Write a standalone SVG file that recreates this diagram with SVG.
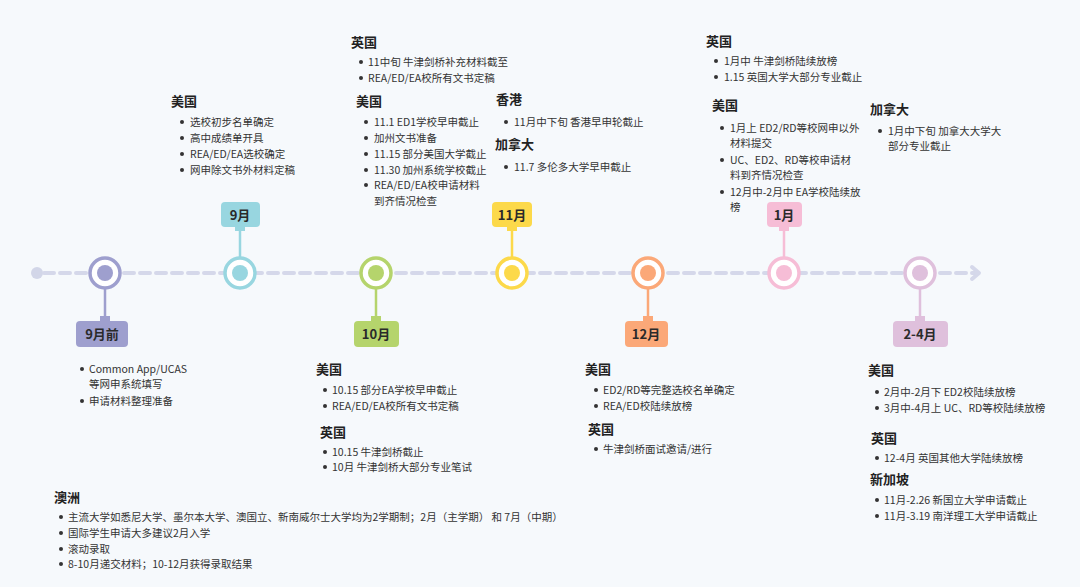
<svg xmlns="http://www.w3.org/2000/svg" width="1080" height="587" viewBox="0 0 1080 587">
<style>
text{font-family:"Noto Sans CJK SC","Noto Sans",sans-serif;fill:#333}
.h{font-size:13px;font-weight:bold;fill:#222}
.b{font-size:10.5px}
.m{font-size:13px;font-weight:bold;fill:#2a2a2a;text-anchor:middle}
.ring{fill:#fff;stroke-width:3.5}
</style>
<defs><circle id="dot" r="2" fill="#333"/></defs>
<rect width="1080" height="587" fill="#f6f9fc"/>
<g id="connectors">
<circle cx="37" cy="273" r="6" fill="#d2d6e8"/>
<line x1="44" y1="273" x2="978" y2="273" stroke="#d5d8ea" stroke-width="4" stroke-dasharray="10,6" stroke-linecap="round"/>
<path d="M972 267 L979 273 L972 279" fill="none" stroke="#d5d8ea" stroke-width="4" stroke-linecap="round" stroke-linejoin="round"/>
</g>
<g id="n1"><line x1="105" y1="289" x2="105" y2="320" stroke="#9e9fce" stroke-width="2.5"/><rect x="100" y="316" width="10" height="6" fill="#9e9fce"/><rect x="76" y="321" width="52" height="26" rx="4" fill="#9e9fce"/><text class="m" x="102" y="339">9月前</text><circle cx="105" cy="273" r="15" class="ring" stroke="#9e9fce"/><circle cx="105" cy="273" r="8" fill="#9e9fce"/></g>
<g id="n2"><line x1="240" y1="226" x2="240" y2="257" stroke="#98d6e0" stroke-width="2.5"/><rect x="235" y="225" width="10" height="6" fill="#98d6e0"/><rect x="221" y="202" width="39" height="25" rx="4" fill="#98d6e0"/><text class="m" x="240" y="220">9月</text><circle cx="240" cy="273" r="15" class="ring" stroke="#98d6e0"/><circle cx="240" cy="273" r="8" fill="#98d6e0"/></g>
<g id="n3"><line x1="376" y1="289" x2="376" y2="320" stroke="#b5d46c" stroke-width="2.5"/><rect x="371" y="316" width="10" height="6" fill="#b5d46c"/><rect x="354" y="321" width="45" height="26" rx="4" fill="#b5d46c"/><text class="m" x="376" y="339">10月</text><circle cx="376" cy="273" r="15" class="ring" stroke="#b5d46c"/><circle cx="376" cy="273" r="8" fill="#b5d46c"/></g>
<g id="n4"><line x1="512" y1="226" x2="512" y2="257" stroke="#fcd94a" stroke-width="2.5"/><rect x="507" y="225" width="10" height="6" fill="#fcd94a"/><rect x="492" y="202" width="40" height="25" rx="4" fill="#fcd94a"/><text class="m" x="512" y="220">11月</text><circle cx="512" cy="273" r="15" class="ring" stroke="#fcd94a"/><circle cx="512" cy="273" r="8" fill="#fcd94a"/></g>
<g id="n5"><line x1="648" y1="289" x2="648" y2="320" stroke="#fba878" stroke-width="2.5"/><rect x="643" y="316" width="10" height="6" fill="#fba878"/><rect x="625" y="321" width="43" height="26" rx="4" fill="#fba878"/><text class="m" x="646" y="339">12月</text><circle cx="648" cy="273" r="15" class="ring" stroke="#fba878"/><circle cx="648" cy="273" r="8" fill="#fba878"/></g>
<g id="n6"><line x1="784" y1="226" x2="784" y2="257" stroke="#f6bdd6" stroke-width="2.5"/><rect x="779" y="225" width="10" height="6" fill="#f6bdd6"/><rect x="767" y="202" width="35" height="25" rx="4" fill="#f6bdd6"/><text class="m" x="784" y="220">1月</text><circle cx="784" cy="273" r="15" class="ring" stroke="#f6bdd6"/><circle cx="784" cy="273" r="8" fill="#f6bdd6"/></g>
<g id="n7"><line x1="920" y1="289" x2="920" y2="320" stroke="#dfc0dc" stroke-width="2.5"/><rect x="915" y="316" width="10" height="6" fill="#dfc0dc"/><rect x="893" y="321" width="55" height="26" rx="4" fill="#dfc0dc"/><text class="m" x="920" y="339">2-4月</text><circle cx="920" cy="273" r="15" class="ring" stroke="#dfc0dc"/><circle cx="920" cy="273" r="8" fill="#dfc0dc"/></g>

<g id="t9pre">
<use href="#dot" x="82" y="369"/><text class="b" x="89" y="373">Common App/UCAS</text>
<text class="b" x="89" y="388">等网申系统填写</text>
<use href="#dot" x="82" y="401"/><text class="b" x="89" y="405">申请材料整理准备</text>
</g>
<g id="t9">
<text class="h" x="171" y="106">美国</text>
<use href="#dot" x="182" y="122"/><text class="b" x="190" y="126">选校初步名单确定</text>
<use href="#dot" x="182" y="138"/><text class="b" x="190" y="142">高中成绩单开具</text>
<use href="#dot" x="182" y="154"/><text class="b" x="190" y="158">REA/ED/EA选校确定</text>
<use href="#dot" x="182" y="170"/><text class="b" x="190" y="174">网申除文书外材料定稿</text>
</g>
<g id="t10">
<text class="h" x="316" y="374">美国</text>
<use href="#dot" x="325" y="390"/><text class="b" x="332" y="394">10.15 部分EA学校早申截止</text>
<use href="#dot" x="325" y="406"/><text class="b" x="332" y="410">REA/ED/EA校所有文书定稿</text>
<text class="h" x="320" y="437">英国</text>
<use href="#dot" x="325" y="452"/><text class="b" x="332" y="456">10.15 牛津剑桥截止</text>
<use href="#dot" x="325" y="467"/><text class="b" x="332" y="471">10月 牛津剑桥大部分专业笔试</text>
</g>
<g id="t11">
<text class="h" x="351" y="47">英国</text>
<use href="#dot" x="361" y="62"/><text class="b" x="368" y="66">11中旬 牛津剑桥补充材料截至</text>
<use href="#dot" x="361" y="78"/><text class="b" x="368" y="82">REA/ED/EA校所有文书定稿</text>
<text class="h" x="356" y="106">美国</text>
<use href="#dot" x="366" y="122"/><text class="b" x="374" y="126">11.1 ED1学校早申截止</text>
<use href="#dot" x="366" y="138"/><text class="b" x="374" y="142">加州文书准备</text>
<use href="#dot" x="366" y="154"/><text class="b" x="374" y="158">11.15 部分美国大学截止</text>
<use href="#dot" x="366" y="170"/><text class="b" x="374" y="174">11.30 加州系统学校截止</text>
<use href="#dot" x="366" y="185"/><text class="b" x="374" y="189">REA/ED/EA校申请材料</text>
<text class="b" x="374" y="205">到齐情况检查</text>
<text class="h" x="496" y="104">香港</text>
<use href="#dot" x="506" y="122"/><text class="b" x="514" y="126">11月中下旬 香港早申轮截止</text>
<text class="h" x="495" y="149">加拿大</text>
<use href="#dot" x="506" y="167"/><text class="b" x="514" y="171">11.7 多伦多大学早申截止</text>
</g>
<g id="t12">
<text class="h" x="585" y="374">美国</text>
<use href="#dot" x="596" y="390"/><text class="b" x="603" y="394">ED2/RD等完整选校名单确定</text>
<use href="#dot" x="596" y="406"/><text class="b" x="603" y="410">REA/ED校陆续放榜</text>
<text class="h" x="588" y="434">英国</text>
<use href="#dot" x="596" y="449"/><text class="b" x="603" y="453">牛津剑桥面试邀请/进行</text>
</g>
<g id="t1">
<text class="h" x="706" y="46">英国</text>
<use href="#dot" x="716" y="61"/><text class="b" x="724" y="65">1月中 牛津剑桥陆续放榜</text>
<use href="#dot" x="716" y="77"/><text class="b" x="724" y="81">1.15 英国大学大部分专业截止</text>
<text class="h" x="712" y="110">美国</text>
<use href="#dot" x="722" y="128"/><text class="b" x="730" y="132">1月上 ED2/RD等校网申以外</text>
<text class="b" x="730" y="147">材料提交</text>
<use href="#dot" x="722" y="160"/><text class="b" x="730" y="164">UC、ED2、RD等校申请材</text>
<text class="b" x="730" y="179">料到齐情况检查</text>
<use href="#dot" x="722" y="192"/><text class="b" x="730" y="196">12月中-2月中 EA学校陆续放</text>
<text class="b" x="730" y="211">榜</text>
</g>
<g id="t24">
<text class="h" x="870" y="114">加拿大</text>
<use href="#dot" x="880" y="131"/><text class="b" x="888" y="135">1月中下旬 加拿大大学大</text>
<text class="b" x="888" y="150">部分专业截止</text>
<text class="h" x="868" y="375">美国</text>
<use href="#dot" x="877" y="392"/><text class="b" x="884" y="396">2月中-2月下 ED2校陆续放榜</text>
<use href="#dot" x="877" y="408"/><text class="b" x="884" y="412">3月中-4月上 UC、RD等校陆续放榜</text>
<text class="h" x="871" y="443">英国</text>
<use href="#dot" x="877" y="458"/><text class="b" x="884" y="462">12-4月 英国其他大学陆续放榜</text>
<text class="h" x="870" y="484">新加坡</text>
<use href="#dot" x="877" y="500"/><text class="b" x="884" y="504">11月-2.26 新国立大学申请截止</text>
<use href="#dot" x="877" y="516"/><text class="b" x="884" y="520">11月-3.19 南洋理工大学申请截止</text>
</g>
<g id="tau">
<text class="h" x="54" y="502">澳洲</text>
<use href="#dot" x="61" y="517"/><text class="b" x="68" y="521">主流大学如悉尼大学、墨尔本大学、澳国立、新南威尔士大学均为2学期制；2月（主学期） 和 7月（中期）</text>
<use href="#dot" x="61" y="533"/><text class="b" x="68" y="537">国际学生申请大多建议2月入学</text>
<use href="#dot" x="61" y="549"/><text class="b" x="68" y="553">滚动录取</text>
<use href="#dot" x="61" y="564"/><text class="b" x="68" y="568">8-10月递交材料；10-12月获得录取结果</text>
</g>
</svg>
